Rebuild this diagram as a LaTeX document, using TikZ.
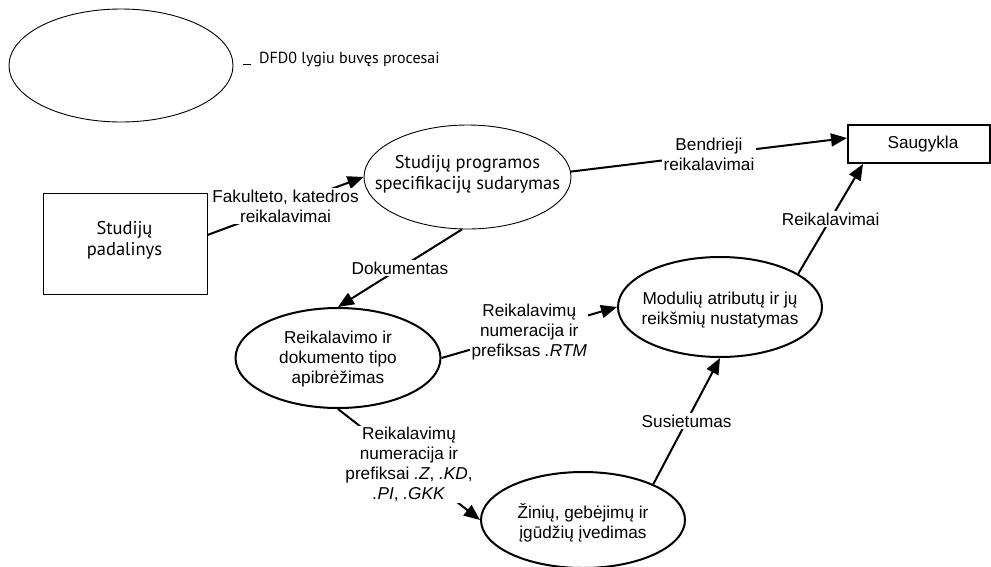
\documentclass[tikz,border=0pt]{standalone}
\usepackage{fontspec}
\setmainfont{Liberation Sans}
\newfontfamily\myr{PT Sans}
\usetikzlibrary{arrows.meta,shapes.geometric}
\begin{document}
\begin{tikzpicture}[x=1pt,y=-1pt,
  every node/.style={font=\fontsize{17.2}{20}\selectfont},
  thinell/.style={draw, ellipse, line width=0.9pt, inner sep=0pt},
  thickell/.style={draw, ellipse, line width=2pt, inner sep=0pt},
  txt/.style={inner sep=0pt, align=center},
  mtxt/.style={inner sep=0pt, align=center, font=\myr\fontsize{18.5}{21}\selectfont},
  flow/.style={line width=2pt, -{Triangle[length=16pt,width=13pt]}},
  lbl/.style={fill=white, inner sep=1.5pt, align=center}
]
\useasboundingbox (0,0) rectangle (991,566);
% legend
\node[thinell, minimum width=224pt, minimum height=113pt] (leg) at (121,65.5) {};
\node[anchor=west, inner sep=0pt, font=\myr\fontsize{16}{19}\selectfont] (legtxt) at (259,59) {DFD0 lygiu buvęs procesai};
\draw[line width=1pt] (243,64) -- (251,64);
% nodes
\node[draw, line width=0.9pt, minimum width=164pt, minimum height=101pt, inner sep=0pt] (pad) at (125,243.5) {};
\node[mtxt] (padt) at (124.5,240) {Studijų\\padalinys};
\node[thinell, minimum width=207pt, minimum height=104pt] (e1) at (467.5,177) {};
\node[mtxt] (e1t) at (467.5,174) {Studijų programos\\specifikacijų sudarymas};
\node[draw, line width=2pt, minimum width=142pt, minimum height=38pt, inner sep=0pt] (sg) at (919,144) {};
\node[txt] (sgt) at (923,144) {Saugykla};
\node[thickell, minimum width=205pt, minimum height=100pt] (e2) at (338,358) {};
\node[txt] (e2t) at (338,359) {Reikalavimo ir\\dokumento tipo\\apibrėžimas};
\node[thickell, minimum width=204pt, minimum height=100pt] (e3) at (720,307) {};
\node[txt] (e3t) at (720,310) {Modulių atributų ir jų\\reikšmių nustatymas};
\node[thickell, minimum width=204pt, minimum height=96pt] (e4) at (583,520) {};
\node[txt] (e4t) at (583,523) {Žinių, gebėjimų ir\\įgūdžių įvedimas};
% flows
\draw[flow] ([yshift=8.5pt]pad.east) -- node[lbl] {Fakulteto, katedros\\reikalavimai} (e1.west);
\draw[flow] (e1.264) -- node[lbl] {Dokumentas} (e2.north);
\draw[flow] (e1.3) -- node[lbl] {Bendrieji\\reikalavimai} ([yshift=6pt]sg.west);
\draw[flow] (e2.east) -- node[lbl] {Reikalavimų\\numeracija ir\\prefiksas \textit{.RTM}} (e3.west);
\draw[flow] (e2.south) -- node[lbl] {Reikalavimų\\numeracija ir\\prefiksai \textit{.Z}, \textit{.KD},\\\textit{.PI}, \textit{.GKK}} (e4.west);
\draw[flow] (e4.27) -- node[lbl] {Susietumas} (e3.south);
\draw[flow] (e3.23) -- node[lbl] {Reikalavimai} ([xshift=-56pt]sg.south);
\end{tikzpicture}
\end{document}
